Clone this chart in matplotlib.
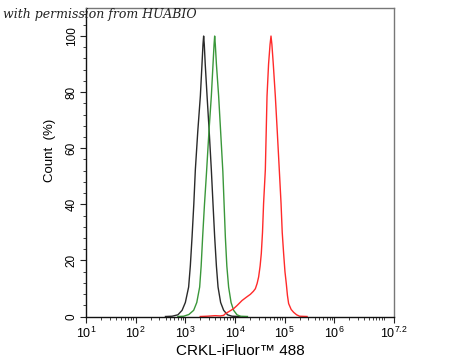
import numpy as np
import matplotlib
matplotlib.use("Agg")
import matplotlib.pyplot as plt
from matplotlib.ticker import FixedLocator, MultipleLocator, NullFormatter

plt.rcParams['font.family'] = ['Liberation Sans', 'DejaVu Sans']
plt.rcParams['mathtext.fontset'] = 'custom'
plt.rcParams['mathtext.rm'] = 'Liberation Sans'
plt.rcParams['mathtext.it'] = 'Liberation Sans'

# log10 intensity and count (%)
black_log = [2.60, 2.732, 2.85, 2.934, 3.00, 3.066, 3.10, 3.135, 3.17, 3.201, 3.25, 3.302, 3.335, 3.355, 3.368,
             3.381, 3.40, 3.437, 3.48, 3.523, 3.557, 3.590, 3.625, 3.658, 3.71, 3.771, 3.85, 3.940, 4.10]
black_y   = [0.0, 0.1, 0.6, 2.2, 5.0, 10.5, 18.0, 28.4, 40.0, 52.3, 66.0, 78.6, 90.0, 97.0, 100.0,
             97.0, 90.0, 78.6, 66.0, 52.3, 40.0, 28.4, 18.0, 10.5, 5.0, 2.2, 0.6, 0.1, 0.0]

green_log = [2.85, 2.966, 3.07, 3.167, 3.23, 3.288, 3.318, 3.348, 3.385, 3.423, 3.475, 3.523, 3.557, 3.578, 3.590,
             3.603, 3.625, 3.670, 3.71, 3.755, 3.78, 3.805, 3.835, 3.871, 3.92, 3.972, 4.04, 4.107, 4.25]
green_y   = [0.0, 0.1, 0.7, 2.2, 5.0, 10.5, 18.0, 28.4, 40.0, 50.5, 66.0, 78.6, 90.0, 97.0, 100.0,
             97.0, 90.0, 78.6, 66.0, 51.6, 40.0, 28.4, 18.0, 10.5, 5.0, 2.2, 0.6, 0.1, 0.0]

red_log = [3.30, 3.437, 3.60, 3.70, 3.771, 3.805, 3.89, 3.972, 4.040, 4.141, 4.23, 4.308, 4.37, 4.409, 4.445,
           4.475, 4.505, 4.529, 4.553, 4.575, 4.610, 4.644, 4.675, 4.705, 4.724, 4.742, 4.77, 4.811, 4.85,
           4.891, 4.926, 4.95, 4.978, 5.005, 5.032, 5.055, 5.079, 5.13, 5.179, 5.24, 5.300, 5.45]
red_y   = [0.0, 0.1, 0.3, 0.2, 0.4, 1.0, 1.9, 2.8, 3.9, 5.7, 6.9, 7.9, 9.0, 9.9, 11.8,
           14.1, 18.0, 22.5, 30.0, 40.4, 52.3, 78.6, 90.0, 97.0, 100.0, 97.0, 90.0, 78.6, 66.0,
           52.3, 40.4, 30.0, 22.5, 16.0, 11.7, 7.5, 4.6, 2.5, 1.5, 0.6, 0.1, 0.0]

xtick_exps = [1, 2, 3, 4, 5, 6, 7.2]
xtick_labels = [r'$10^{1}$', r'$10^{2}$', r'$10^{3}$', r'$10^{4}$', r'$10^{5}$', r'$10^{6}$', r'$10^{7.2}$']

fig = plt.figure(figsize=(4.5, 3.59), dpi=100)
ax = fig.add_axes([86/450, 1-316.5/359, (394-86)/450, (316.5-8)/359])

ax.plot(10**np.array(black_log), black_y, color='#2a2a2a', lw=1.0)
ax.plot(10**np.array(green_log), green_y, color='#3a973a', lw=1.0)
ax.plot(10**np.array(red_log), red_y, color='#ff2a2a', lw=1.0)

ax.set_xscale('log')
ax.set_xlim(10**1, 10**7.2)
ax.set_ylim(0, 110)

ax.xaxis.set_major_locator(FixedLocator([10**e for e in xtick_exps]))
ax.set_xticklabels(xtick_labels, fontsize=9)
minor = []
for d in range(1, 8):
    for m in range(2, 10):
        v = m * 10**d
        if v < 10**7.2:
            minor.append(v)
minor.append(10**7)
ax.xaxis.set_minor_locator(FixedLocator(minor))
ax.xaxis.set_minor_formatter(NullFormatter())

ax.yaxis.set_major_locator(FixedLocator([0, 20, 40, 60, 80, 100]))
ax.yaxis.set_minor_locator(MultipleLocator(4))
for lab in ax.get_yticklabels():
    lab.set_rotation(90)
    lab.set_va('center')
    lab.set_fontsize(8.5)

ax.tick_params(which='major', direction='out', length=4, width=0.8, color='#222222', pad=2)
ax.tick_params(axis='x', which='major', pad=3)
ax.tick_params(which='minor', direction='out', length=2, width=0.6, color='#222222')

for s in ['left', 'bottom']:
    ax.spines[s].set_color('#111111')
    ax.spines[s].set_linewidth(1.0)
for s in ['top', 'right']:
    ax.spines[s].set_color('#777777')
    ax.spines[s].set_linewidth(1.0)

ax.set_xlabel('CRKL-iFluor\u2122 488', fontsize=11, labelpad=2)
ax.set_ylabel('Count  (%)', fontsize=9.5)
ax.yaxis.set_label_coords(-0.097, 0.54)

fig.text(3/450, 1-18/359, 'with permission from HUABIO', fontsize=9,
         family='DejaVu Serif', style='italic', color='#222222')

fig.savefig('out.png', dpi=100)
